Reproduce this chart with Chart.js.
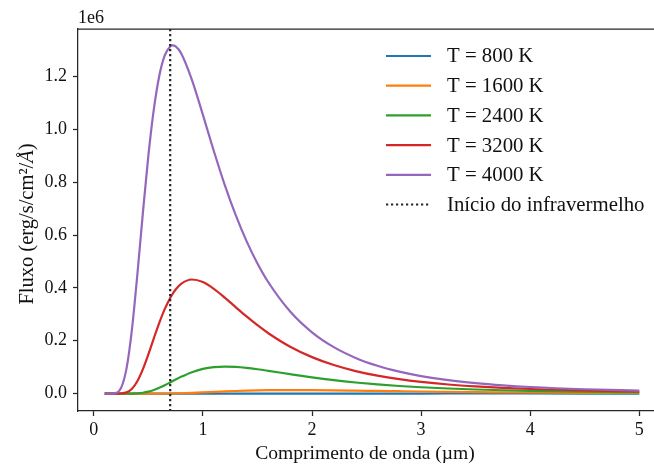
<!DOCTYPE html>
<html>
<head>
<meta charset="utf-8">
<script src="https://cdn.jsdelivr.net/npm/chart.js@4.4.1/dist/chart.umd.min.js"></script>
<style>
  html, body { margin: 0; padding: 0; background: #fff; overflow: hidden; }
  #wrap { width: 654px; height: 467px; overflow: hidden; }
</style>
</head>
<body>
<div id="wrap"><canvas id="planck" width="680" height="467"></canvas></div>
<script>
// wavelength in micrometres
const wavelength = [0.1, 0.15, 0.2, 0.25, 0.3, 0.35, 0.4, 0.45, 0.5, 0.55, 0.6, 0.65, 0.7, 0.72, 0.75, 0.8, 0.9,
  1.0, 1.1, 1.2, 1.3, 1.4, 1.5, 1.6, 1.8, 2.0, 2.2, 2.4, 2.6, 2.8, 3.0, 3.25, 3.5, 3.75, 4.0, 4.5, 5.0];

// flux in erg/s/cm2/A
const flux800 = [0, 0, 0, 0, 0, 0, 0, 0, 0, 0, 0, 0, 0, 0, 0, 0, 0,
  1, 2, 5, 10, 18, 31, 47, 91, 145, 205, 262, 312, 354, 385, 409, 420, 420, 412, 380, 337];
const flux1600 = [0, 0, 0, 0, 0, 0, 1, 4, 19, 59, 149, 316, 587, 728, 979, 1499, 2901,
  4653, 6545, 8374, 9992, 11313, 12307, 12978, 13491, 13186, 12392, 11354, 10234, 9128, 8089, 6922, 5909, 5045, 4314, 3180, 2376];
const flux2400 = [0, 0, 0, 2, 32, 259, 1132, 3321, 7431, 13720, 22030, 31840, 42490, 46820, 53270, 63590, 81200,
  93450, 100250, 102450, 101150, 97450, 92240, 86220, 73470, 61430, 50930, 42120, 34870, 28960, 24150, 19380, 15680, 12790, 10510, 7270, 5170];
const flux3200 = [0, 0, 20, 592, 4770, 18790, 47980, 92840, 148910, 209440, 267960, 319740, 362010, 376000, 393810, 415280, 431710,
  421940, 396550, 363330, 327470, 292090, 258850, 228560, 177490, 138060, 108050, 85280, 67920, 54600, 44300, 34530, 27260, 21780, 17590, 11820, 8210];
const flux4000 = [0, 19, 1808, 21615, 95560, 245210, 454420, 685070, 900030, 1075500, 1201800, 1279200, 1313600, 1317400, 1313700, 1288000, 1186300,
  1054300, 918000, 790000, 675900, 577000, 492700, 421400, 310560, 231980, 175830, 135190, 105370, 83200, 66460, 50970, 39700, 31350, 25070, 16570, 11370];

const seriesLabels = ["T = 800 K", "T = 1600 K", "T = 2400 K", "T = 3200 K", "T = 4000 K"];
const seriesColors = ["#1f77b4", "#ff7f0e", "#2ca02c", "#d62728", "#9467bd"];
const irStart = 0.7;
const irLabel = "Início do infravermelho";

const xTicks = [0, 1, 2, 3, 4, 5];
const yTicks = [0, 200000, 400000, 600000, 800000, 1000000, 1200000];

const serif = "'Liberation Serif', 'Times New Roman', serif";
const ink = "#262626";

const allSeries = [flux800, flux1600, flux2400, flux3200, flux4000];

const datasets = allSeries.map((vals, i) => ({
  label: seriesLabels[i],
  data: wavelength.map((w, j) => ({ x: w, y: vals[j] })),
  borderColor: seriesColors[i],
  borderWidth: 2.2,
  pointRadius: 0,
  fill: false,
  cubicInterpolationMode: "monotone",
  order: allSeries.length - 1 - i
}));

// top spine (right one falls outside the visible page)
const frame = {
  id: "frame",
  afterDatasetsDraw(chart) {
    const { ctx, chartArea: a } = chart;
    ctx.save();
    ctx.strokeStyle = ink;
    ctx.lineWidth = 1.25;
    ctx.beginPath();
    ctx.moveTo(a.left, a.top);
    ctx.lineTo(a.right, a.top);
    ctx.lineTo(a.right, a.bottom);
    ctx.stroke();
    ctx.restore();
  }
};

// vertical dotted line where the infrared starts
const irLine = {
  id: "irLine",
  afterDatasetsDraw(chart) {
    const { ctx, chartArea: a, scales } = chart;
    const px = scales.x.getPixelForValue(irStart);
    ctx.save();
    ctx.strokeStyle = ink;
    ctx.lineWidth = 2.2;
    ctx.setLineDash([2.2, 2.8]);
    ctx.beginPath();
    ctx.moveTo(px, a.top);
    ctx.lineTo(px, a.bottom);
    ctx.stroke();
    ctx.restore();
  }
};

// legend in the upper right of the plot
const legendBox = {
  id: "legendBox",
  afterDraw(chart) {
    const { ctx } = chart;
    const x0 = 386, x1 = 431, tx = 447, y0 = 56, dy = 29.7;
    ctx.save();
    ctx.font = "20.8px " + serif;
    ctx.textBaseline = "middle";
    ctx.fillStyle = "#111";
    chart.data.datasets.forEach((ds, i) => {
      const y = y0 + i * dy;
      ctx.strokeStyle = ds.borderColor;
      ctx.lineWidth = 2.2;
      ctx.beginPath();
      ctx.moveTo(x0, y);
      ctx.lineTo(x1, y);
      ctx.stroke();
      ctx.fillText(ds.label, tx, y + 1);
    });
    const y = y0 + chart.data.datasets.length * dy;
    ctx.strokeStyle = ink;
    ctx.setLineDash([2.2, 2.8]);
    ctx.beginPath();
    ctx.moveTo(x0, y);
    ctx.lineTo(x1, y);
    ctx.stroke();
    ctx.fillText(irLabel, tx, y + 1);
    ctx.restore();
  }
};

// axis titles (the y one has an italic angstrom) and the 1e6 multiplier
const axisText = {
  id: "axisText",
  afterDraw(chart) {
    const { ctx, chartArea: a } = chart;
    const parts = [
      ["Fluxo (erg/s/cm²/", "20.5px " + serif],
      ["Å", "italic 20.5px " + serif],
      [")", "20.5px " + serif]
    ];
    ctx.save();
    let total = 0;
    parts.forEach(p => { ctx.font = p[1]; total += ctx.measureText(p[0]).width; });
    ctx.translate(33, 224);
    ctx.rotate(-Math.PI / 2);
    ctx.fillStyle = "#111";
    ctx.textBaseline = "alphabetic";
    let x = -total / 2;
    parts.forEach(p => {
      ctx.font = p[1];
      ctx.fillText(p[0], x, 0);
      x += ctx.measureText(p[0]).width;
    });
    ctx.restore();

    ctx.save();
    ctx.fillStyle = "#111";
    ctx.font = "19.6px " + serif;
    ctx.textAlign = "center";
    ctx.textBaseline = "middle";
    ctx.fillText("Comprimento de onda (µm)", 365, 454);
    ctx.font = "18px " + serif;
    ctx.textAlign = "left";
    ctx.textBaseline = "alphabetic";
    ctx.fillText("1e6", a.left, 23);
    ctx.restore();
  }
};

new Chart(document.getElementById("planck"), {
  type: "line",
  data: { datasets: datasets },
  options: {
    responsive: false,
    animation: false,
    layout: { padding: { top: 29, right: 14, left: 0, bottom: 0 } },
    plugins: {
      legend: { display: false },
      tooltip: { enabled: false }
    },
    scales: {
      x: {
        type: "linear",
        min: -0.145,
        max: 5.245,
        afterBuildTicks: s => { s.ticks = xTicks.map(v => ({ value: v })); },
        afterFit: s => { s.height = 56; },
        grid: { drawOnChartArea: false, drawTicks: true, tickLength: 5, tickColor: ink, tickWidth: 1.25 },
        border: { display: true, color: ink, width: 1.25 },
        ticks: { font: { family: serif, size: 18 }, color: "#111", padding: 3, maxRotation: 0, callback: v => String(v) }
      },
      y: {
        type: "linear",
        min: -65700,
        max: 1379400,
        afterBuildTicks: s => { s.ticks = yTicks.map(v => ({ value: v })); },
        afterFit: s => { s.width = 78; },
        grid: { drawOnChartArea: false, drawTicks: true, tickLength: 5, tickColor: ink, tickWidth: 1.25 },
        border: { display: true, color: ink, width: 1.25 },
        ticks: { font: { family: serif, size: 18 }, color: "#111", padding: 6, callback: v => (v / 1e6).toFixed(1) }
      }
    }
  },
  plugins: [frame, irLine, legendBox, axisText]
});
</script>
</body>
</html>
